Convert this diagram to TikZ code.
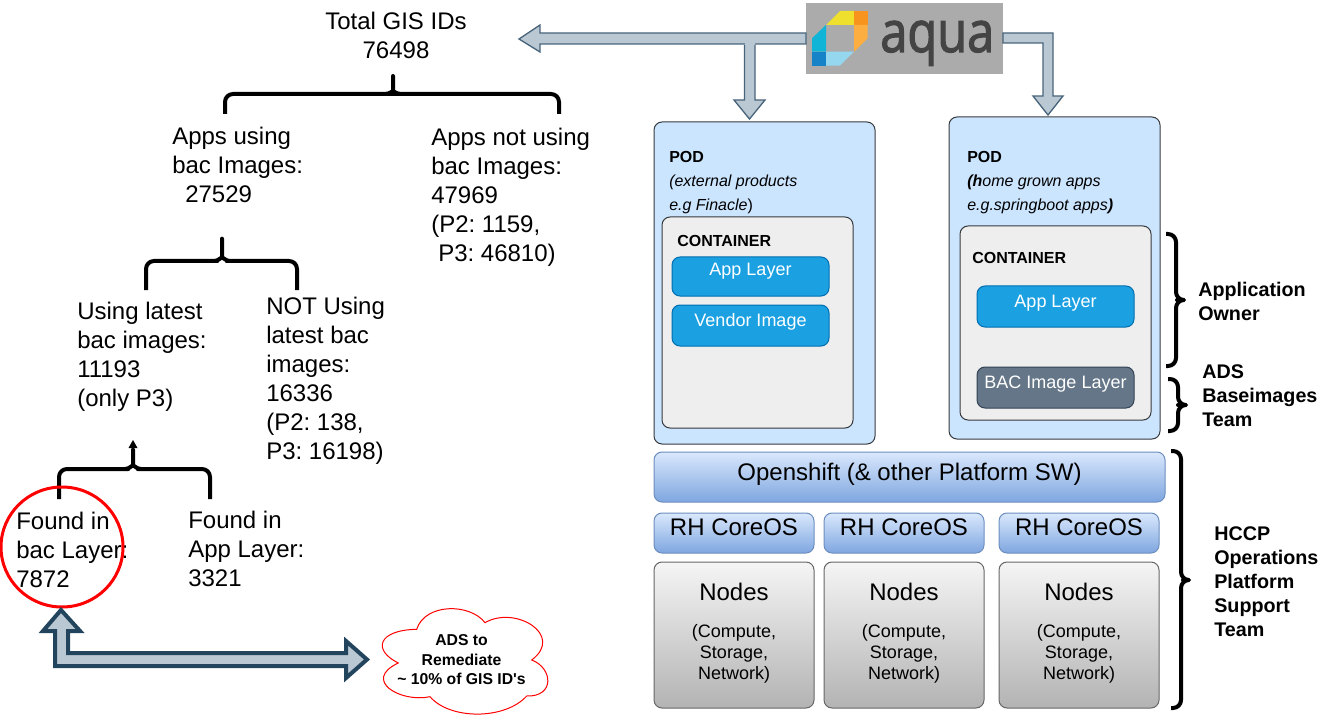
\documentclass[tikz,border=0pt]{standalone}
\usepackage{fontspec}
\setmainfont{Liberation Sans}
\newfontfamily\plainfont{Liberation Sans}
\newfontfamily\logofont[FakeStretch=0.85,FakeBold=2]{Open Sans}
\usetikzlibrary{calc,shapes.geometric}
\frenchspacing
\definecolor{podfill}{HTML}{CCE5FF}
\definecolor{podline}{HTML}{36393D}
\definecolor{contfill}{HTML}{EEEEEE}
\definecolor{appfill}{HTML}{1BA1E2}
\definecolor{appline}{HTML}{006EAF}
\definecolor{bacfill}{HTML}{647687}
\definecolor{bacline}{HTML}{314354}
\definecolor{bluetop}{HTML}{DAE8FC}
\definecolor{bluebot}{HTML}{7EA6E0}
\definecolor{blueline}{HTML}{6C8EBF}
\definecolor{greytop}{HTML}{F5F5F5}
\definecolor{greybot}{HTML}{B3B3B3}
\definecolor{greyline}{HTML}{666666}
\definecolor{arrowfill}{HTML}{BAC8D3}
\definecolor{arrowline}{HTML}{23445D}
\definecolor{logobg}{HTML}{ABABAB}
\newcommand{\boxat}[6]{\node[#2,anchor=north west,inner sep=0pt,outer sep=0pt,minimum width={(#5-#3)*0.75pt},minimum height={(#6-#4)*0.75pt}] (#1) at (#3,#4) {};}
\tikzset{
  x=0.75pt,y=-0.75pt,
  rbox/.style={draw,rounded corners=6pt,line width=0.75pt},
  podbox/.style={rbox,draw=podline,fill=podfill},
  contbox/.style={rbox,draw=podline,fill=contfill},
  appbox/.style={rbox,draw=appline,fill=appfill},
  bacbox/.style={rbox,draw=bacline,fill=bacfill},
  bluebox/.style={rbox,draw=blueline,top color=bluetop,bottom color=bluebot},
  greybox/.style={rbox,draw=greyline,top color=greytop,bottom color=greybot},
  bigtext/.style={inner sep=0pt,align=left,anchor=north west,font=\fontsize{18}{21.75}\selectfont,execute at begin node={\rule{0pt}{17.5pt}}},
  bigline/.style={inner sep=0pt,anchor=base,font=\fontsize{18}{21}\selectfont},
  midline/.style={inner sep=0pt,anchor=base,font=\fontsize{13.5}{15.75}\selectfont},
  whiteline/.style={midline,text=white},
  smallnote/.style={inner sep=0pt,anchor=north,align=center,font=\fontsize{13.5}{15.75}\selectfont,execute at begin node={\rule{0pt}{13.5pt}}},
  podtext/.style={inner sep=0pt,anchor=north west,align=left,font=\fontsize{12}{18}\selectfont,execute at begin node={\rule{0pt}{12pt}}},
  conttext/.style={inner sep=0pt,anchor=base west,font=\bfseries\fontsize{12}{14}\selectfont},
  teamtext/.style={inner sep=0pt,anchor=north west,align=left,font=\bfseries\fontsize{14.8}{18}\selectfont,execute at begin node={\rule{0pt}{14.8pt}}},
  bracket/.style={draw=black,line width=3pt,rounded corners=6pt,line join=round},
  thinarrow/.style={draw=arrowline!75!arrowfill,fill=arrowfill,line width=1pt,line join=miter},
  boldarrow/.style={draw=arrowline,fill=arrowfill,line width=3pt,line join=miter},
}
\begin{document}
\begin{tikzpicture}
\useasboundingbox (0,0) rectangle (1338,720);

% left hand tree texts
\node[bigtext,anchor=north,align=center] (total) at (396,12) {Total GIS IDs\\76498};
\node[bigtext] (using) at (172,127) {Apps using\\bac Images:\\\hspace*{9.75pt}27529};
\node[bigtext] (notusing) at (431,128) {Apps not using\\bac Images:\\47969\\(P2: 1159,\\\hspace*{5.25pt}P3: 46810)};
\node[bigtext] (latest) at (77,302) {Using latest\\bac images:\\11193\\(only P3)};
\node[bigtext] (notlatest) at (266,297) {NOT Using\\latest bac\\images:\\16336\\(P2: 138,\\P3: 16198)};
\node[bigtext] (foundbac) at (16,512) {Found in\\bac Layer:\\7872};
\node[bigtext] (foundapp) at (188,511) {Found in\\App Layer:\\3321};

% braces of the tree
\draw[bracket] (225,114) -- (225,94) -- (392,94) -- (393,94) .. controls (390,94) and (393,90) .. (393,84) -- (393,80) -- (393,84) .. controls (393,90) and (396,94) .. (393,94) -- (559,94) -- (559,114);
\draw[bracket] (146,290) -- (146,261) -- (222,261) .. controls (219,261) and (222,256) .. (222,250) -- (222,234) -- (222,250) .. controls (222,256) and (225,261) .. (222,261) -- (297,261) -- (297,290);
\draw[bracket] (59,499) -- (59,469) -- (133,469) .. controls (130,469) and (133,464) .. (133,458) -- (133,445) -- (133,458) .. controls (133,464) and (136,469) .. (133,469) -- (210,469) -- (210,499);
\fill[black] (133,440) -- (137.5,448) -- (128.5,448) -- cycle;

\node[ellipse,draw=red,line width=2.25pt,inner sep=0pt,outer sep=0pt,minimum width={122*0.75pt},minimum height={120*0.75pt}] (ring) at (62,547) {};

% remediation cloud
\draw[red,fill=white,line width=0.75pt] (416.7,629.3) .. controls (425,603) and (470,603) .. (485,622.7)
  .. controls (515,605) and (565,635) .. (531.7,660)
  .. controls (553,668) and (555,697) .. (526.7,696)
  .. controls (505,720) and (450,720) .. (430,696.7)
  .. controls (400,703) and (362,680) .. (398.3,663)
  .. controls (372,650) and (378,630) .. (416.7,629.3) -- cycle;
\node[inner sep=0pt,anchor=north,align=center,font=\plainfont\bfseries\fontsize{11.8}{14.6}\selectfont,execute at begin node={\rule{0pt}{11.8pt}}] (cloudtext) at (461.5,634.5) {ADS to\\Remediate\\\textasciitilde{} 10\% of GIS ID's};

\draw[boldarrow] (ring.south) ++(-1,3) -- ++(19,21) -- ++(-12,0) -- ++(0,22) -- ++(278,0) -- ++(0,-12) -- ++(21,18.5) -- ++(-21,18.5) -- ++(0,-12) -- ++(-291,0) -- ++(0,-35) -- ++(-12,0) -- cycle;

% aqua logo
\node[fill=logobg,inner sep=0pt,outer sep=0pt,anchor=north west,minimum width={197*0.75pt},minimum height={71*0.75pt}] (aqua) at (806,3) {};
\fill[fill={rgb,255:red,238;green,224;blue,44}] (826,25) -- (840,11) -- (854,11) -- (854,25) -- cycle;
\fill[fill={rgb,255:red,246;green,148;blue,30}] (854,11) -- (867.7,11) -- (867.7,25) -- (854,25) -- cycle;
\fill[fill={rgb,255:red,252;green,175;blue,64}] (854,25) -- (867.7,25) -- (867.7,38.3) -- (854,51.7) -- cycle;
\fill[fill={rgb,255:red,15;green,180;blue,215}] (826,25) -- (826,51.7) -- (812,51.7) -- (812,38.3) -- cycle;
\fill[fill={rgb,255:red,22;green,130;blue,200}] (812,51.7) -- (826,51.7) -- (826,65.7) -- (812,65.7) -- cycle;
\fill[fill={rgb,255:red,150;green,215;blue,240}] (826,51.7) -- (854,51.7) -- (840,65.7) -- (826,65.7) -- cycle;
\node[inner sep=0pt,anchor=base west,text={rgb,255:red,68;green,68;blue,68},font=\logofont\fontsize{43}{43}\selectfont] (aquaword) at (880,52) {aqua};

% arrows from the logo
\draw[thinarrow] (aqua.west) ++(0,-5.5) -- ++(-266,0) -- ++(0,-8) -- ++(-21,14) -- ++(21,13) -- ++(0,-8) -- ++(266,0) -- cycle;
\fill[arrowfill] (744.5,40) rectangle (755,47);
\draw[thinarrow] (744.5,45) -- (744.5,100) -- (734,100) -- (749.5,119) -- (765,100) -- (755,100) -- (755,45);
\draw[thinarrow] (aqua.east) ++(0,-5.5) -- ++(50,0) -- ++(0,63) -- ++(10,0) -- ++(-15,19) -- ++(-15,-19) -- ++(10,0) -- ++(0,-53) -- ++(-40,0) -- cycle;

% pods
\boxat{podone}{podbox}{654}{122}{875}{444}
\boxat{podtwo}{podbox}{949}{117}{1160}{439}
\boxat{contone}{contbox}{662}{217}{853}{428}
\boxat{conttwo}{contbox}{960}{226}{1151}{420}
\boxat{appone}{appbox}{672}{257}{829}{296}
\boxat{vendor}{appbox}{672}{305}{829}{346}
\boxat{apptwo}{appbox}{977}{286}{1134}{327}
\boxat{bac}{bacbox}{977}{367}{1134}{408}

\node[podtext] (podonetext) at (669,151) {\textbf{POD}\\\textit{(external products}\\\textit{e.g Finacle})};
\node[podtext] (podtwotext) at (967,151) {\textbf{POD}\\\textbf{\textit{(h}}\textit{ome grown apps}\\\textit{e.g.springboot apps}\textbf{\textit{)}}};
\node[conttext] (contonetext) at (677,247) {CONTAINER};
\node[conttext] (conttwotext) at (972,263) {CONTAINER};
\node[whiteline] (apponetext) at (750.5,276) {App Layer};
\node[whiteline] (vendortext) at (750.5,326) {Vendor Image};
\node[whiteline] (apptwotext) at (1055.5,307) {App Layer};
\node[whiteline] (bactext) at (1055.5,388) {BAC Image Layer};

% platform layers
\boxat{openshift}{bluebox}{654}{452}{1165}{502}
\boxat{coreone}{bluebox}{654}{513}{814}{553}
\boxat{coretwo}{bluebox}{824}{513}{984}{553}
\boxat{corethree}{bluebox}{999}{513}{1159}{553}
\boxat{nodesone}{greybox}{654}{562}{814}{708}
\boxat{nodestwo}{greybox}{824}{562}{984}{708}
\boxat{nodesthree}{greybox}{999}{562}{1159}{708}

\node[bigline] (openshifttext) at (909.5,480) {Openshift (\& other Platform SW)};
\node[bigline] (coreonetext) at (734,535) {RH CoreOS};
\node[bigline] (coretwotext) at (904,535) {RH CoreOS};
\node[bigline] (corethreetext) at (1079,535) {RH CoreOS};
\node[bigline] (nodesonetext) at (734,600) {Nodes};
\node[bigline] (nodestwotext) at (904,600) {Nodes};
\node[bigline] (nodesthreetext) at (1079,600) {Nodes};
\node[smallnote] (noteone) at (734,624) {(Compute,\\Storage,\\Network)};
\node[smallnote] (notetwo) at (904,624) {(Compute,\\Storage,\\Network)};
\node[smallnote] (notethree) at (1079,624) {(Compute,\\Storage,\\Network)};

% team braces
\draw[bracket] (1166,234) -- (1176,234) -- (1176,300) -- (1185,300) -- (1176,300) -- (1176,366) -- (1166,366);
\draw[bracket] (1168,379) -- (1178,379) -- (1178,405) -- (1186,405) -- (1178,405) -- (1178,431) -- (1168,431);
\draw[bracket] (1171,451) -- (1181,451) -- (1181,580) -- (1191,580) -- (1181,580) -- (1181,708) -- (1171,708);

\node[teamtext] (ownerlabel) at (1198,282) {Application\\Owner};
\node[teamtext] (adslabel) at (1202,364) {ADS\\Baseimages\\Team};
\node[teamtext] (hccplabel) at (1214,526) {HCCP\\Operations\\Platform\\Support\\Team};
\end{tikzpicture}
\end{document}
